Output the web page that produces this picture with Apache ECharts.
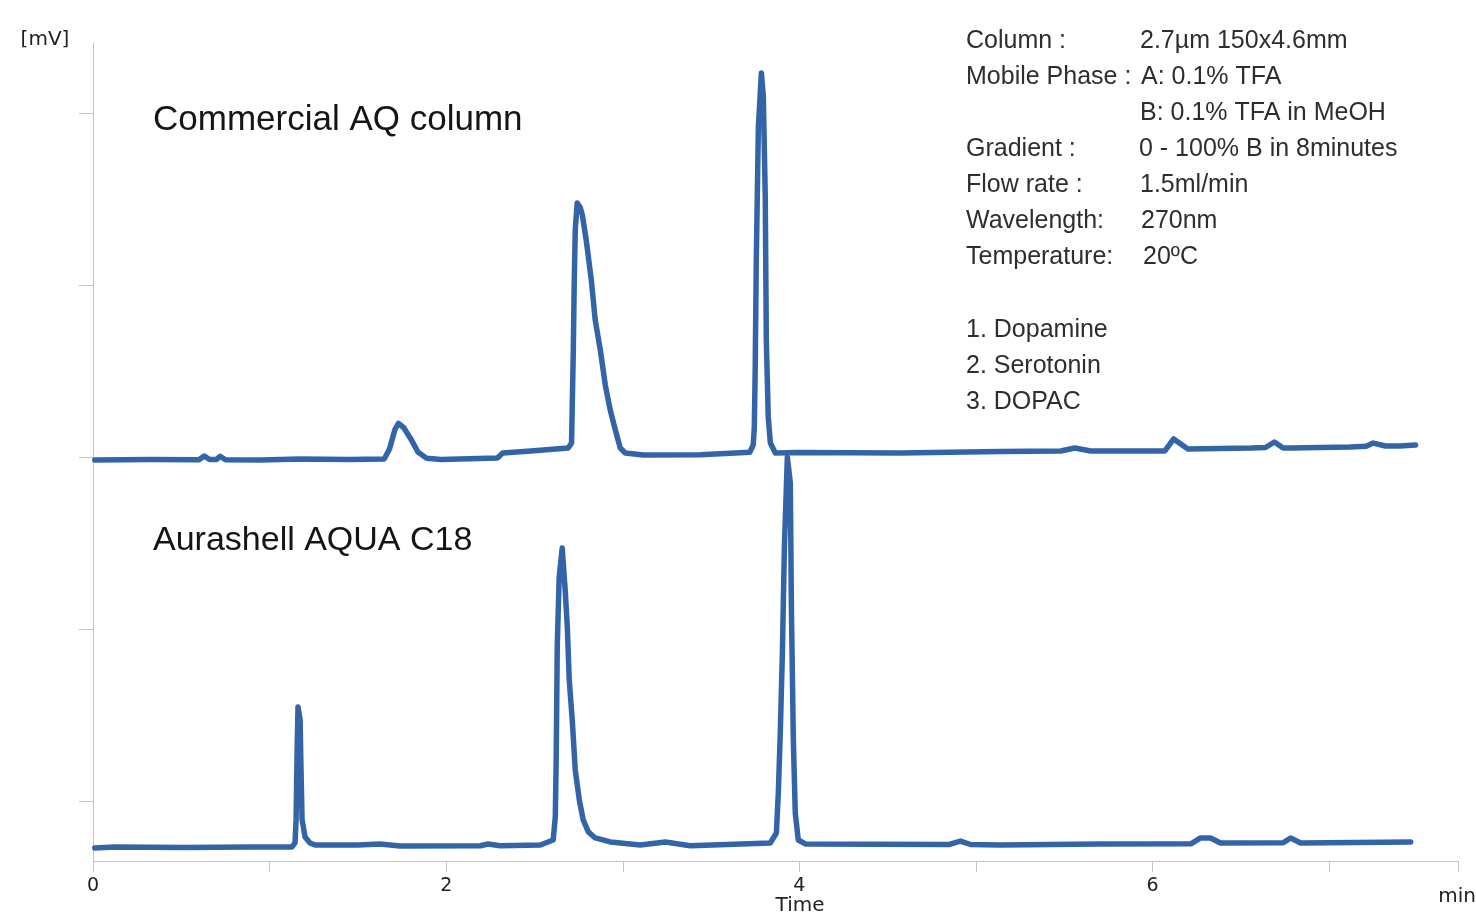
<!DOCTYPE html>
<html>
<head>
<meta charset="utf-8">
<style>html,body{margin:0;padding:0;background:#fff}#c{width:1476px;height:912px}</style>
<script src="https://cdn.jsdelivr.net/npm/echarts@6/dist/echarts.min.js"></script>
</head>
<body>
<div id="c"></div>
<script>
// time [min], signal [mV] (arbitrary baseline offsets as drawn)
var commercialAQ = [[0.01,198.3],[0.32,198.5],[0.6,198.4],[0.63,200.6],[0.66,198.5],[0.7,198.6],[0.72,200.4],[0.75,198.4],[0.95,198.3],[1.17,198.8],[1.45,198.6],[1.65,198.9],[1.68,205],[1.71,216],[1.73,219.5],[1.76,217],[1.8,210.5],[1.84,202.9],[1.89,199.2],[1.97,198.6],[2.29,199.4],[2.32,202.3],[2.48,203.5],[2.69,205.2],[2.71,208],[2.714,230],[2.72,262],[2.725,300],[2.731,332],[2.742,347.7],[2.759,345],[2.771,340.7],[2.793,326.2],[2.822,302.9],[2.844,279.7],[2.873,262.2],[2.901,241.9],[2.929,227.3],[2.958,215.7],[2.986,205.2],[3.014,202.3],[3.116,201.2],[3.44,201.3],[3.72,202.8],[3.739,207],[3.745,217.4],[3.75,250.6],[3.756,312.8],[3.768,391.9],[3.785,423.3],[3.796,410],[3.807,351.2],[3.813,268],[3.824,223.3],[3.836,208.1],[3.864,202.3],[4.0,202.6],[4.57,202.3],[5.14,203.2],[5.48,203.5],[5.56,205.2],[5.65,203.5],[6.07,203.5],[6.12,210.5],[6.2,204.7],[6.56,205.2],[6.64,205.5],[6.69,208.7],[6.74,205.2],[6.78,205.2],[7.12,205.8],[7.21,206.2],[7.25,208.1],[7.32,206.4],[7.4,206.4],[7.49,207.0]];
var aurashellAQUA = [[0.01,-27.3],[0.12,-26.7],[0.13,-27.3],[0.52,-27.0],[0.89,-26.8],[1.127,-26.7],[1.144,-24.4],[1.15,-11],[1.156,29.7],[1.161,54.7],[1.173,47.1],[1.178,18],[1.184,-11],[1.201,-20.9],[1.229,-24.4],[1.258,-25.6],[1.5,-25.6],[1.626,-25.0],[1.739,-26.2],[2.193,-26.0],[2.238,-25.0],[2.306,-26.0],[2.533,-25.6],[2.606,-22.7],[2.618,-9.3],[2.623,23.8],[2.629,89.5],[2.64,130],[2.657,147.1],[2.674,122.7],[2.686,101.2],[2.697,70.3],[2.714,47.1],[2.731,18],[2.754,0.6],[2.776,-11],[2.805,-18],[2.844,-21.5],[2.929,-23.8],[3.099,-25.6],[3.241,-23.8],[3.382,-26.0],[3.836,-24.4],[3.87,-18.6],[3.881,4.7],[3.892,39.5],[3.904,86],[3.915,145.9],[3.932,200],[3.949,184.9],[3.955,112.8],[3.966,35.5],[3.977,-7],[3.994,-22.7],[4.034,-25],[4.85,-25.3],[4.912,-23.3],[4.97,-25.3],[5.139,-25.6],[5.705,-25.0],[6.22,-24.8],[6.272,-21.5],[6.329,-21.5],[6.385,-24.4],[6.74,-24.3],[6.782,-21.5],[6.839,-24.4],[7.462,-23.8]];
var yTickValues = [0, 100, 200, 300, 400];
var xTickLabels = ['0', '2', '4', '6'];
var traceNames = ['Commercial AQ column', 'Aurashell AQUA C18'];
var condLabels = ['Column :', 'Mobile Phase :', '', 'Gradient :', 'Flow rate :', 'Wavelength:', 'Temperature:'];
var condValues = ['2.7µm 150x4.6mm', 'A: 0.1% TFA', 'B: 0.1% TFA in MeOH', '0 - 100% B in 8minutes', '1.5ml/min', '270nm', '20ºC'];
var compounds = ['1. Dopamine', '2. Serotonin', '3. DOPAC'];

var chart = echarts.init(document.getElementById('c'));
var lineColor = '#3464a8';
var axisGray = '#c4c4c4';
var axisFont = '20px "DejaVu Sans"';
var infoFont = '25px "Liberation Sans"';

var graphics = [];
function txt(x, y, s, font, fill, align) {
  graphics.push({type:'text', x:x, y:y, silent:true,
    style:{text:s, font:font, fill:fill, align:align||'left', verticalAlign:'middle',
           textAlign:align||'left', textVerticalAlign:'middle'}});
}
txt(45, 40, '[mV]', axisFont, '#222', 'center');
txt(800, 906, 'Time', axisFont, '#222', 'center');
txt(1457, 897, 'min', axisFont, '#222', 'center');
txt(153, 120, traceNames[0], '35px "Liberation Sans"', '#151515');
txt(153, 541, traceNames[1], '34px "Liberation Sans"', '#151515');
var valX = [1140, 1141, 1140, 1139, 1140, 1141, 1143];
for (var i = 0; i < condLabels.length; i++) {
  var y = 41 + i * 36.1;
  if (condLabels[i]) txt(966, y, condLabels[i], infoFont, '#2e2e2e');
  txt(valX[i], y, condValues[i], infoFont, '#2e2e2e');
}
for (var j = 0; j < compounds.length; j++) {
  txt(966, 330 + j * 36, compounds[j], infoFont, '#2e2e2e');
}

chart.setOption({
  animation: false,
  backgroundColor: '#fff',
  grid: {left: 93, right: 18, top: 43, bottom: 51, containLabel: false},
  xAxis: {
    type: 'value', min: 0, max: 7.73, interval: 1,
    axisLine: {show: true, onZero: false, lineStyle: {color: axisGray, width: 1}},
    axisTick: {show: true, length: 11, lineStyle: {color: axisGray}},
    splitLine: {show: false},
    axisLabel: {
      margin: 16, color: '#222', fontFamily: 'DejaVu Sans', fontSize: 19,
      formatter: function (v) { var s = String(v); return xTickLabels.indexOf(s) >= 0 ? s : ''; }
    }
  },
  yAxis: {
    type: 'value', min: -34.9, max: 440.7,
    axisLine: {show: true, onZero: false, lineStyle: {color: axisGray, width: 1}},
    axisTick: {show: true, length: 14, customValues: yTickValues, lineStyle: {color: axisGray}},
    axisLabel: {show: false},
    splitLine: {show: false}
  },
  series: [
    {name: traceNames[0], type: 'line', data: commercialAQ, showSymbol: false, symbol: 'none',
     lineStyle: {color: lineColor, width: 5.5, join: 'round', cap: 'round'}},
    {name: traceNames[1], type: 'line', data: aurashellAQUA, showSymbol: false, symbol: 'none',
     lineStyle: {color: lineColor, width: 5.5, join: 'round', cap: 'round'}}
  ],
  graphic: graphics
});
</script>
</body>
</html>
